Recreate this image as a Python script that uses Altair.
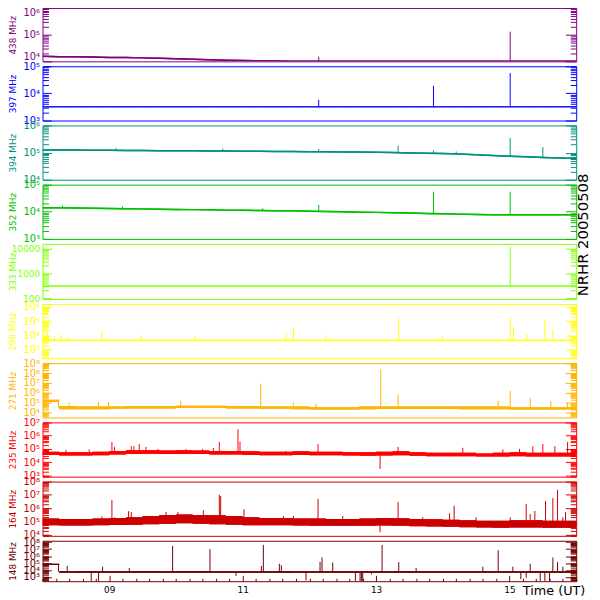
import math
import altair as alt
import pandas as pd

W = 541
X0, X1 = 8.0, 16.0

# time grid (UT hours) for the background levels
T = [8.0, 8.25, 8.5, 8.75, 9.0, 9.25, 9.5, 9.75, 10.0, 10.25, 10.5,
     10.75, 11.0, 11.25, 11.5, 11.75, 12.0, 12.25, 12.5, 12.75, 13.0, 13.25,
     13.5, 13.75, 14.0, 14.25, 14.5, 14.75, 15.0, 15.25, 15.5, 15.75, 16.0]

# ---- 438 MHz
B438 = [1.55e4, 1.5e4, 1.5e4, 1.45e4, 1.4e4, 1.4e4, 1.35e4, 1.3e4, 1.25e4, 1.2e4, 1.15e4,
        1.1e4, 1.07e4, 1.05e4, 1.02e4, 1.0e4, 1.0e4, 1.0e4, 1.0e4, 1.0e4, 1.0e4, 1.0e4,
        1.0e4, 1.0e4, 1.0e4, 1.0e4, 1.0e4, 1.0e4, 1.0e4, 1.0e4, 1.0e4, 1.0e4, 1.0e4]
S438_T = [12.14, 15.01]
S438_F = [1.0e4, 1.0e4]
S438_P = [1.5e4, 1.3e5]

# ---- 397 MHz
B397 = [3.2e3, 3.2e3, 3.2e3, 3.2e3, 3.2e3, 3.2e3, 3.2e3, 3.2e3, 3.2e3, 3.2e3, 3.2e3,
        3.2e3, 3.2e3, 3.2e3, 3.2e3, 3.2e3, 3.2e3, 3.2e3, 3.2e3, 3.2e3, 3.2e3, 3.2e3,
        3.2e3, 3.2e3, 3.2e3, 3.2e3, 3.2e3, 3.2e3, 3.2e3, 3.2e3, 3.2e3, 3.2e3, 3.2e3]
S397_T = [12.14, 13.86, 15.01]
S397_F = [3.2e3, 3.2e3, 3.2e3]
S397_P = [5.8e3, 1.9e4, 5.6e4]

# ---- 394 MHz
B394 = [1.25e5, 1.25e5, 1.24e5, 1.23e5, 1.22e5, 1.2e5, 1.2e5, 1.18e5, 1.17e5, 1.16e5, 1.15e5,
        1.14e5, 1.13e5, 1.12e5, 1.1e5, 1.1e5, 1.08e5, 1.07e5, 1.06e5, 1.05e5, 1.03e5, 1.0e5,
        9.7e4, 9.5e4, 9.2e4, 8.8e4, 8.3e4, 7.8e4, 7.3e4, 7.0e4, 6.6e4, 6.3e4, 6.0e4]
S394_T = [9.1, 10.7, 12.14, 13.33, 13.86, 14.2, 15.01, 15.5]
S394_F = [1.22e5, 1.15e5, 1.08e5, 1.0e5, 9.2e4, 8.8e4, 7.3e4, 6.6e4]
S394_P = [1.45e5, 1.4e5, 1.35e5, 1.8e5, 1.2e5, 1.1e5, 3.5e5, 1.6e5]

# ---- 352 MHz
B352 = [1.4e4, 1.4e4, 1.38e4, 1.35e4, 1.32e4, 1.3e4, 1.28e4, 1.25e4, 1.22e4, 1.2e4, 1.18e4,
        1.15e4, 1.13e4, 1.12e4, 1.1e4, 1.1e4, 1.05e4, 1.02e4, 1.0e4, 9.7e3, 9.5e3, 9.2e3,
        9.0e3, 8.7e3, 8.5e3, 8.2e3, 8.0e3, 7.8e3, 7.8e3, 7.8e3, 7.8e3, 7.8e3, 7.8e3]
S352_T = [8.3, 9.2, 11.3, 12.14, 13.86, 15.01]
S352_F = [1.4e4, 1.32e4, 1.12e4, 1.05e4, 8.5e3, 7.8e3]
S352_P = [1.7e4, 1.6e4, 1.35e4, 1.8e4, 5.5e4, 5.5e4]

# ---- 333 MHz
B333 = [310, 310, 310, 310, 310, 310, 310, 310, 310, 310, 310,
        310, 310, 310, 310, 310, 310, 310, 310, 310, 310, 310,
        310, 310, 310, 310, 310, 310, 310, 310, 310, 310, 310]
S333_T = [15.01]
S333_F = [310]
S333_P = [1.2e4]

# ---- 298 MHz
B298 = [4.5e3, 4.5e3, 4.5e3, 4.5e3, 4.5e3, 4.5e3, 4.5e3, 4.5e3, 4.5e3, 4.5e3, 4.5e3,
        4.5e3, 4.5e3, 4.5e3, 4.5e3, 4.5e3, 4.5e3, 4.5e3, 4.5e3, 4.5e3, 4.5e3, 4.5e3,
        4.5e3, 4.5e3, 4.5e3, 4.5e3, 4.5e3, 4.5e3, 4.5e3, 4.5e3, 4.5e3, 4.5e3, 4.5e3]
S298_T = [8.07, 8.18, 8.28, 8.37, 8.89, 9.48, 10.29, 11.65, 11.76, 12.25, 13.34,
          13.99, 15.01, 15.06, 15.26, 15.53, 15.65]
S298_F = [4.5e3] * 17
S298_P = [1.7e4, 9e3, 1.2e4, 7.8e3, 2e4, 1.05e4, 9e3, 1.3e4, 3.7e4, 1.05e4, 1.5e5,
          9e3, 1.8e5, 3.7e4, 1.2e4, 1.1e5, 2.6e4]

# ---- 271 MHz
H271 = [2e5, 4.5e4, 4e4, 4e4, 4e4, 4.5e4, 4.5e4, 4.5e4, 5e4, 5e4, 5e4,
        4.5e4, 4.5e4, 4e4, 4e4, 4e4, 3.5e4, 3.5e4, 3.5e4, 4e4, 4e4, 4e4,
        4e4, 4e4, 4e4, 4e4, 4e4, 4e4, 3.5e4, 3.5e4, 3.5e4, 3.5e4, 3.5e4]
L271 = [1.2e5, 2.2e4, 2.2e4, 2.2e4, 2.4e4, 2.5e4, 2.5e4, 2.6e4, 2.8e4, 2.8e4, 2.8e4,
        2.6e4, 2.5e4, 2.4e4, 2.4e4, 2.2e4, 2.0e4, 2.0e4, 2.0e4, 2.2e4, 2.3e4, 2.3e4,
        2.3e4, 2.3e4, 2.3e4, 2.2e4, 2.2e4, 2.2e4, 2.0e4, 2.0e4, 2.0e4, 2.0e4, 2.0e4]
S271_T = [8.03, 8.24, 8.4, 8.84, 8.99, 10.07, 11.27, 11.76, 12.1, 13.07, 13.33, 14.83, 15.01,
          15.31, 15.62, 15.87]
S271_F = [3.2e4] * 16
S271_P = [2e5, 2e5, 1e5, 1.3e5, 1.3e5, 1.6e5, 8e6, 1e5, 8e4, 2.5e8, 6.3e5, 1.6e5, 1.6e6,
          3e5, 1.6e5, 1e5]

# ---- 235 MHz
H235 = [6e4, 5.5e4, 5.5e4, 6e4, 7e4, 8e4, 8e4, 7.5e4, 8e4, 7.5e4, 7e4,
        7e4, 6.5e4, 6e4, 6e4, 6.5e4, 6e4, 6e4, 5.5e4, 5.5e4, 6e4, 6.5e4,
        5.5e4, 5e4, 5e4, 5e4, 4.5e4, 5e4, 5.5e4, 5e4, 5e4, 5e4, 5e4]
L235 = [3.5e4, 3.2e4, 3.2e4, 3.3e4, 3.8e4, 4e4, 4.2e4, 4e4, 4e4, 4e4, 3.8e4,
        3.8e4, 3.5e4, 3.3e4, 3.3e4, 3.5e4, 3.3e4, 3.3e4, 3.2e4, 3e4, 3.2e4, 3.3e4,
        3e4, 2.8e4, 2.8e4, 2.8e4, 2.6e4, 2.7e4, 2.8e4, 2.7e4, 2.6e4, 2.6e4, 2.6e4]
S235_T = [8.35, 8.7, 9.04, 9.08, 9.33, 9.37, 9.45, 9.55, 9.73, 10.15, 10.4, 10.56, 10.65,
          10.93, 10.96, 11.65, 12.13, 13.06, 13.33, 14.3, 14.9, 15.15, 15.35, 15.5, 15.68,
          15.87, 15.98]
S235_F = [4.5e4, 4.5e4, 5e4, 5e4, 5.5e4, 5.5e4, 5.5e4, 5.5e4, 5.5e4, 5.5e4, 5e4, 5e4, 5e4,
          5e4, 5e4, 4.5e4, 4.5e4, 4e4, 4e4, 3.8e4, 3.5e4, 3.5e4, 3.5e4, 3.5e4, 3.5e4,
          3.5e4, 3.5e4]
S235_P = [8e4, 9e4, 3.3e5, 1.4e5, 1.6e5, 1.6e5, 2.3e5, 1.4e5, 1.0e5, 1.0e5, 1.0e5, 1.2e5, 3.3e5,
          3.0e6, 3.5e5, 7e4, 2.3e5, 3e3, 1.4e5, 1.2e5, 9e4, 1.0e5, 1.6e5, 2.3e5, 1.6e5,
          3.3e5, 1.0e5]

# ---- 164 MHz
H164 = [1.6e5, 1.5e5, 1.5e5, 1.6e5, 1.8e5, 2.0e5, 2.5e5, 3.0e5, 3.2e5, 3.0e5, 2.8e5,
        2.5e5, 2.0e5, 1.8e5, 1.8e5, 1.6e5, 1.6e5, 1.5e5, 1.5e5, 1.6e5, 1.8e5, 1.7e5,
        1.5e5, 1.4e5, 1.3e5, 1.2e5, 1.1e5, 1.1e5, 1.2e5, 1.2e5, 1.1e5, 1.1e5, 1.1e5]
L164 = [5e4, 4.8e4, 4.8e4, 5e4, 5.2e4, 5.5e4, 6e4, 6.5e4, 7e4, 6.5e4, 6e4,
        5.5e4, 5e4, 5e4, 5e4, 4.8e4, 4.5e4, 4.5e4, 4.5e4, 4.5e4, 4.8e4, 4.5e4,
        4.2e4, 4e4, 3.8e4, 3.6e4, 3.4e4, 3.3e4, 3.4e4, 3.4e4, 3.3e4, 3.3e4, 3.3e4]
S164_T = [8.89, 9.04, 9.08, 9.29, 9.33, 9.54, 9.76, 9.85, 10.03, 10.41, 10.65, 10.67, 10.91,
          11.02, 11.61, 11.76, 12.13, 12.5, 13.06, 13.33, 13.7, 14.1, 14.17, 14.5, 15.01,
          15.25, 15.31, 15.38, 15.54, 15.65, 15.72, 15.8, 15.84]
S164_F = [8e4, 9e4, 9e4, 1e5, 1e5, 1.2e5, 1.4e5, 1.5e5, 1.5e5, 1.5e5, 1.2e5, 1.2e5, 1e5,
          1e5, 9e4, 9e4, 9e4, 8e4, 8e4, 8e4, 7e4, 6e4, 6e4, 6e4, 6e4,
          6e4, 6e4, 6e4, 6e4, 6e4, 6e4, 6e4, 6e4]
S164_P = [2.3e5, 4e6, 2e5, 5.8e5, 5e5, 2.5e5, 2.5e5, 5e5, 5e5, 6.8e5, 1e7, 8e6, 2.5e5,
          8e5, 2.5e5, 2.5e5, 5e6, 2.5e5, 1.5e4, 2.8e6, 2e5, 4e5, 1.5e6, 2e5, 2e5,
          2e6, 3.5e5, 6e5, 3.4e6, 5.7e6, 2.4e7, 2e5, 5e5]

# ---- 148 MHz
H148 = [8e4, 7e3, 7.5e3, 7e3, 7e3, 7.5e3, 7.5e3, 7e3, 7.5e3, 7.5e3, 7e3,
        7e3, 7e3, 7e3, 7.5e3, 7e3, 7e3, 7e3, 7e3, 7e3, 7e3, 7.5e3,
        7e3, 7e3, 7e3, 7e3, 7e3, 7e3, 7e3, 7.5e3, 7e3, 7e3, 7e3]
L148 = [5.5e4, 4e3, 4.2e3, 4e3, 4e3, 4.2e3, 4.2e3, 4e3, 4.2e3, 4.2e3, 4e3,
        4e3, 4e3, 4e3, 4.2e3, 4e3, 4e3, 4e3, 4e3, 4e3, 4e3, 4e3,
        4e3, 4e3, 4e3, 4e3, 4e3, 4e3, 4e3, 4e3, 4e3, 4e3, 4e3]
S148_T = [8.24, 8.37, 8.9, 9.3, 9.95, 10.51, 11.28, 11.31, 11.55, 11.58, 12.16, 12.19, 12.35,
          13.09, 13.34, 13.6, 14.6, 14.83, 15.05, 15.31, 15.65, 15.72, 15.8,
          8.73, 8.84, 10.9, 11.95, 12.69, 12.76, 12.78, 12.8, 12.93, 15.17, 15.25, 15.46,
          15.53, 15.6]
S148_F = [5.5e3] * 23 + [4.5e3] * 14
S148_P = [7e4, 4e4, 3e4, 2e4, 2.8e7, 1e7, 4e4, 4e7, 8e4, 5e4, 1.5e5, 6.3e5, 1.2e5,
          4e7, 1.4e5, 2e4, 3e4, 7e6, 3e4, 8e4, 6.3e5, 1.4e5, 3e4,
          2.6e2, 2.6e2, 1.5e3, 3.5e2, 2.6e2, 2.6e2, 2.6e2, 2.6e2, 2.5e3, 5e2, 8e2, 2.6e2,
          2.6e2, 2.6e2]

SUP = str.maketrans("0123456789", "⁰¹²³⁴⁵⁶⁷⁸⁹")


def tick_values(e0, e1):
    majors, allv = [], []
    for k in range(math.floor(e0), math.ceil(e1) + 1):
        for m in range(1, 10):
            v = float(m * 10 ** k)
            if 10 ** e0 * 0.999 <= v <= 10 ** e1 * 1.001:
                allv.append(v)
                if m == 1:
                    majors.append(v)
    return majors, allv


def label_expr(majors, plain):
    expr = "''"
    for v in majors:
        k = round(math.log10(v))
        txt = str(int(v)) if plain else "10" + str(k).translate(SUP)
        expr = f"datum.value == {v!r} ? '{txt}' : ({expr})"
    return expr


def tick_cond(test, big, small):
    return {"condition": {"test": test, "value": big}, "value": small}


def panel(name, color, e0, e1, h, main_df, kind, sp_df, first=False, last=False,
          extra=None, plain=False, sw=1.0, lfs=10):
    majors, allv = tick_values(e0, e1)
    test = " || ".join(f"datum.value == {v!r}" for v in majors)
    ysc = alt.Scale(type="log", domain=[10 ** e0, 10 ** e1], nice=False)
    xsc = alt.Scale(domain=[X0, X1], nice=False, zero=False)
    axA = alt.Axis(orient="left", values=majors, labelExpr=label_expr(majors, plain),
                   ticks=False, tickSize=0, domain=False, grid=False,
                   labelColor=color, labelFontSize=lfs, labelFont="DejaVu Sans",
                   labelPadding=3, labelOverlap=False, labelFlush=first,
                   title=name, titleColor=color, titleFontSize=9, titleFontWeight="normal",
                   titleFont="DejaVu Sans", titleX=-30, titleY=h / 2, titleAngle=270,
                   titleAlign="center", titleBaseline="middle")
    axB = alt.Axis(orient="right", offset=-W, values=allv, labels=False, domain=False,
                   grid=False, tickColor=color, tickWidth=1,
                   tickSize=tick_cond(test, 9, 6), title=None)
    axC = alt.Axis(orient="left", offset=-W, values=allv, labels=False, domain=False,
                   grid=False, tickColor=color, tickWidth=1,
                   tickSize=tick_cond(test, 11, 6), title=None)
    if last:
        xA = alt.Axis(orient="bottom", values=[9, 11, 13, 15],
                      labelExpr="datum.value < 10 ? '0' + datum.value : '' + datum.value",
                      ticks=False, tickSize=0, domain=False, grid=False, labelFontSize=9,
                      labelFont="DejaVu Sans", labelPadding=4, labelColor="black",
                      title="Time (UT)", titleX=518, titleY=9, titleFontSize=13,
                      titleFont="DejaVu Sans", titleFontWeight="normal", titleAlign="center",
                      titleBaseline="middle", titleColor="black")
        xvals = [round(8 + i * 0.2, 2) for i in range(41)]
        xtest = "abs(datum.value - round(datum.value)) < 0.01 && round(datum.value) % 2 == 1"
        xB = alt.Axis(orient="top", offset=-h, values=xvals, labels=False, domain=False,
                      grid=False, tickColor=color, tickWidth=1,
                      tickSize=tick_cond(xtest, 6, 3), title=None)
    else:
        xA = None
        xB = None
    base = alt.Chart(main_df)
    if kind == "line":
        m1 = base.mark_line(color=color, strokeWidth=sw, clip=True).encode(
            x=alt.X("t:Q", scale=xsc, axis=xA), y=alt.Y("v:Q", scale=ysc, axis=axA))
        m3 = base.mark_line(color=color, strokeWidth=sw, clip=True).encode(
            x=alt.X("t:Q", scale=xsc, axis=None), y=alt.Y("v:Q", scale=ysc, axis=axC))
    else:
        m1 = base.mark_area(color=color, interpolate="step-after", clip=True).encode(
            x=alt.X("t:Q", scale=xsc, axis=xA), y=alt.Y("lo:Q", scale=ysc, axis=axA),
            y2="hi:Q")
        m3 = base.mark_area(color=color, interpolate="step-after", clip=True).encode(
            x=alt.X("t:Q", scale=xsc, axis=None), y=alt.Y("lo:Q", scale=ysc, axis=axC),
            y2="hi:Q")
    m2 = alt.Chart(sp_df).mark_rule(color=color, strokeWidth=1, clip=True).encode(
        x=alt.X("t:Q", scale=xsc, axis=xB), y=alt.Y("foot:Q", scale=ysc, axis=axB),
        y2="peak:Q")
    layers = [m1, m2, m3] + (extra or [])
    return alt.layer(*layers).properties(
        width=W, height=h, view=alt.ViewBackground(stroke=color, strokeWidth=1))


def line_df(v):
    return pd.DataFrame({"t": T, "v": v})


def band_df(lo, hi):
    return pd.DataFrame({"t": T, "lo": lo, "hi": hi})


def sp(t, f, p):
    return pd.DataFrame({"t": t, "foot": f, "peak": p})


stamp = alt.Chart(pd.DataFrame({"s": ["NRHR 20050508"]})).mark_text(
    angle=270, fontSize=15, font="DejaVu Sans", color="black", align="center",
    baseline="middle").encode(x=alt.value(W + 7), y=alt.value(-9), text="s:N")

panels = [
    panel("438 MHz", "#800080", 4, 6, 54, line_df(B438), "line", sp(S438_T, S438_F, S438_P),
          first=True, sw=1.5),
    panel("397 MHz", "#0000ff", 3, 5, 55, line_df(B397), "line", sp(S397_T, S397_F, S397_P)),
    panel("394 MHz", "#00917f", 4, 6, 55, line_df(B394), "line", sp(S394_T, S394_F, S394_P),
          sw=1.5),
    panel("352 MHz", "#00c000", 3, 5, 55, line_df(B352), "line", sp(S352_T, S352_F, S352_P),
          sw=1.5),
    panel("333 MHz", "#80ff00", 1.96, 4.2, 56, line_df(B333), "line",
          sp(S333_T, S333_F, S333_P), plain=True, lfs=9, extra=[stamp]),
    panel("298 MHz", "#ffff00", 2.4, 6.2, 55, line_df(B298), "line",
          sp(S298_T, S298_F, S298_P), sw=1.5),
    panel("271 MHz", "#ffb400", 3.5, 9.0, 55, band_df(L271, H271), "band",
          sp(S271_T, S271_F, S271_P)),
    panel("235 MHz", "#ff0000", 2.9, 7.0, 55, band_df(L235, H235), "band",
          sp(S235_T, S235_F, S235_P)),
    panel("164 MHz", "#cc0000", 3.9, 8.0, 55, band_df(L164, H164), "band",
          sp(S164_T, S164_F, S164_P)),
    panel("148 MHz", "#6e0000", 2.4, 8.2, 41, band_df(L148, H148), "band",
          sp(S148_T, S148_F, S148_P), last=True),
]

chart = alt.vconcat(*panels, spacing=5, bounds="flush").properties(
    padding={"left": 0, "top": -5, "right": 0, "bottom": 0}
).configure_view(strokeWidth=1).configure_axis(grid=False)

chart.save("out.html", embed_options={"renderer": "svg", "actions": False})
